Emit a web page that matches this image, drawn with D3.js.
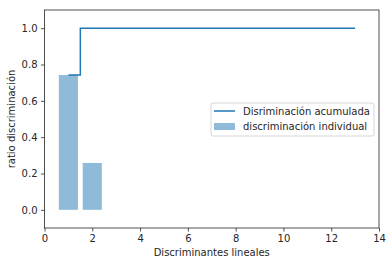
<!DOCTYPE html>
<html>
<head>
<meta charset="utf-8">
<script src="https://cdn.jsdelivr.net/npm/d3@7"></script>
<style>
  body { margin: 0; background: #fff; }
  text { font-family: "DejaVu Sans", sans-serif; fill: #262626; }
</style>
</head>
<body>
<div id="chart"></div>
<script>
// data
var components = [1, 2, 3, 4, 5, 6, 7, 8, 9, 10, 11, 12, 13];
var individual = [0.742, 0.258, 0, 0, 0, 0, 0, 0, 0, 0, 0, 0, 0];
var cumulative = [0.742, 1.0, 1.0, 1.0, 1.0, 1.0, 1.0, 1.0, 1.0, 1.0, 1.0, 1.0, 1.0];
var xTicks = [0, 2, 4, 6, 8, 10, 12, 14];
var yTicks = [0.0, 0.2, 0.4, 0.6, 0.8, 1.0];
var labels = ["Disriminación acumulada", "discriminación individual"];

var W = 391, H = 266;
var margin = {top: 10, right: 12, bottom: 38, left: 44.5};
var width = 379 - margin.left,
    height = 228 - margin.top;

var svg = d3.select("#chart").append("svg")
    .attr("width", W).attr("height", H)
  .append("g")
    .attr("transform", "translate(" + margin.left + "," + margin.top + ")");

var x = d3.scaleLinear().domain([0, 14]).range([0, width]);
var y = d3.scaleLinear().domain([-0.1, 1.1]).range([height, 0]);

var blue = "#1f77b4";

// bars
svg.selectAll("rect.bar")
  .data(components.map(function(c, i) { return {c: c, v: individual[i]}; }).filter(function(d) { return d.v > 0; }))
  .enter().append("rect")
    .attr("class", "bar")
    .attr("x", function(d) { return x(d.c - 0.4); })
    .attr("width", function(d) { return x(d.c + 0.4) - x(d.c - 0.4); })
    .attr("y", function(d) { return y(d.v); })
    .attr("height", function(d) { return y(0) - y(d.v); })
    .attr("fill", blue).attr("fill-opacity", 0.5);

// step line (mid)
var line = d3.line()
    .x(function(d) { return x(d.c); })
    .y(function(d) { return y(d.v); })
    .curve(d3.curveStep);
svg.append("path")
    .datum(components.map(function(c, i) { return {c: c, v: cumulative[i]}; }))
    .attr("d", line)
    .attr("fill", "none")
    .attr("stroke", blue)
    .attr("stroke-width", 1.5);

// axes
var xAxis = svg.append("g")
    .attr("transform", "translate(0," + height + ")")
    .call(d3.axisBottom(x).tickValues(xTicks).tickFormat(d3.format("d")).tickSizeInner(3.5).tickSizeOuter(0).tickPadding(3.5));
var yAxis = svg.append("g")
    .call(d3.axisLeft(y).tickValues(yTicks).tickFormat(d3.format(".1f")).tickSizeInner(3.5).tickSizeOuter(0).tickPadding(3.5));
[xAxis, yAxis].forEach(function(a) {
  a.select(".domain").remove();
  a.selectAll("line").attr("stroke", "#262626").attr("stroke-width", 0.8);
  a.selectAll("text").style("font-size", "10px").attr("fill", "#262626");
});

// frame
svg.append("rect")
    .attr("width", width).attr("height", height)
    .attr("fill", "none").attr("stroke", "#262626").attr("stroke-width", 0.8);

// axis labels
svg.append("text")
    .attr("x", width / 2).attr("y", height + 27.5)
    .attr("text-anchor", "middle").style("font-size", "10px")
    .text("Discriminantes lineales");
svg.append("text")
    .attr("transform", "translate(" + (-30) + "," + (height / 2) + ")rotate(-90)")
    .attr("text-anchor", "middle").style("font-size", "10px")
    .text("ratio discriminación");

// legend
var lg = svg.append("g").attr("transform", "translate(" + (211 - margin.left) + "," + (103 - margin.top) + ")");
lg.append("rect")
    .attr("width", 163).attr("height", 33).attr("rx", 2)
    .attr("fill", "#fff").attr("fill-opacity", 0.8)
    .attr("stroke", "#cccccc").attr("stroke-width", 0.8);
lg.append("line")
    .attr("x1", 3).attr("x2", 24).attr("y1", 8).attr("y2", 8)
    .attr("stroke", blue).attr("stroke-width", 1.5);
lg.append("rect")
    .attr("x", 3).attr("y", 20).attr("width", 21).attr("height", 7)
    .attr("fill", blue).attr("fill-opacity", 0.5);
lg.selectAll("text.lab")
  .data(labels)
  .enter().append("text")
    .attr("class", "lab")
    .attr("x", 32)
    .attr("y", function(d, i) { return 11.5 + i * 15.5; })
    .style("font-size", "10px")
    .text(function(d) { return d; });
</script>
</body>
</html>
